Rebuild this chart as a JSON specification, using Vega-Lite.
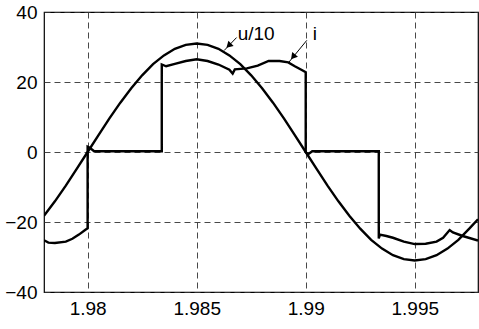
{
  "$schema": "https://vega.github.io/schema/vega-lite/v6.json",
  "width": 434,
  "height": 280,
  "autosize": {"type": "none"},
  "padding": {"left": 44, "top": 12, "right": 1, "bottom": 37},
  "background": "white",
  "config": {
    "view": {"stroke": "black", "strokeWidth": 1.2},
    "font": "Liberation Sans",
    "axis": {
      "domain": false,
      "ticks": false,
      "grid": true,
      "gridColor": "#333333",
      "gridDash": [6, 4],
      "gridWidth": 0.9,
      "labelFont": "Liberation Sans",
      "labelFontSize": 19,
      "labelColor": "black",
      "title": null
    }
  },
  "datasets": {
    "curves": [
      {"s": "u", "k": 1, "t": 1.978, "v": -18.2},
      {"s": "u", "k": 2, "t": 1.9785, "v": -14.1},
      {"s": "u", "k": 3, "t": 1.979, "v": -9.6},
      {"s": "u", "k": 4, "t": 1.9795, "v": -4.8},
      {"s": "u", "k": 5, "t": 1.98, "v": 0},
      {"s": "u", "k": 6, "t": 1.9805, "v": 4.8},
      {"s": "u", "k": 7, "t": 1.981, "v": 9.6},
      {"s": "u", "k": 8, "t": 1.9815, "v": 14.1},
      {"s": "u", "k": 9, "t": 1.982, "v": 18.2},
      {"s": "u", "k": 10, "t": 1.9825, "v": 21.9},
      {"s": "u", "k": 11, "t": 1.983, "v": 25.1},
      {"s": "u", "k": 12, "t": 1.9835, "v": 27.6},
      {"s": "u", "k": 13, "t": 1.984, "v": 29.5},
      {"s": "u", "k": 14, "t": 1.9845, "v": 30.6},
      {"s": "u", "k": 15, "t": 1.985, "v": 31},
      {"s": "u", "k": 16, "t": 1.9855, "v": 30.6},
      {"s": "u", "k": 17, "t": 1.986, "v": 29.5},
      {"s": "u", "k": 18, "t": 1.9865, "v": 27.6},
      {"s": "u", "k": 19, "t": 1.987, "v": 25.1},
      {"s": "u", "k": 20, "t": 1.9875, "v": 21.9},
      {"s": "u", "k": 21, "t": 1.988, "v": 18.2},
      {"s": "u", "k": 22, "t": 1.9885, "v": 14.1},
      {"s": "u", "k": 23, "t": 1.989, "v": 9.6},
      {"s": "u", "k": 24, "t": 1.9895, "v": 4.8},
      {"s": "u", "k": 25, "t": 1.99, "v": 0},
      {"s": "u", "k": 26, "t": 1.9905, "v": -4.8},
      {"s": "u", "k": 27, "t": 1.991, "v": -9.6},
      {"s": "u", "k": 28, "t": 1.9915, "v": -14.1},
      {"s": "u", "k": 29, "t": 1.992, "v": -18.2},
      {"s": "u", "k": 30, "t": 1.9925, "v": -21.9},
      {"s": "u", "k": 31, "t": 1.993, "v": -25.1},
      {"s": "u", "k": 32, "t": 1.9935, "v": -27.6},
      {"s": "u", "k": 33, "t": 1.994, "v": -29.5},
      {"s": "u", "k": 34, "t": 1.9945, "v": -30.6},
      {"s": "u", "k": 35, "t": 1.995, "v": -31},
      {"s": "u", "k": 36, "t": 1.9955, "v": -30.6},
      {"s": "u", "k": 37, "t": 1.996, "v": -29.5},
      {"s": "u", "k": 38, "t": 1.9965, "v": -27.6},
      {"s": "u", "k": 39, "t": 1.997, "v": -25.1},
      {"s": "u", "k": 40, "t": 1.9975, "v": -21.9},
      {"s": "u", "k": 41, "t": 1.9979, "v": -19.2},
      {"s": "i", "k": 1, "t": 1.978, "v": -25.2},
      {"s": "i", "k": 2, "t": 1.9782, "v": -25.9},
      {"s": "i", "k": 3, "t": 1.9785, "v": -26.0},
      {"s": "i", "k": 4, "t": 1.979, "v": -25.6},
      {"s": "i", "k": 5, "t": 1.9793, "v": -24.8},
      {"s": "i", "k": 6, "t": 1.9796, "v": -23.6},
      {"s": "i", "k": 7, "t": 1.9799, "v": -22.2},
      {"s": "i", "k": 8, "t": 1.98, "v": -21.8},
      {"s": "i", "k": 9, "t": 1.98, "v": 1.5},
      {"s": "i", "k": 10, "t": 1.9801, "v": 1.2},
      {"s": "i", "k": 11, "t": 1.9803, "v": 0.2},
      {"s": "i", "k": 12, "t": 1.9834, "v": 0.2},
      {"s": "i", "k": 13, "t": 1.9834, "v": 25.0},
      {"s": "i", "k": 14, "t": 1.9836, "v": 24.5},
      {"s": "i", "k": 15, "t": 1.984, "v": 25.2},
      {"s": "i", "k": 16, "t": 1.9845, "v": 26.0},
      {"s": "i", "k": 17, "t": 1.985, "v": 26.5},
      {"s": "i", "k": 18, "t": 1.9855, "v": 26.0},
      {"s": "i", "k": 19, "t": 1.986, "v": 25.0},
      {"s": "i", "k": 20, "t": 1.9865, "v": 23.5},
      {"s": "i", "k": 21, "t": 1.98665, "v": 22.4},
      {"s": "i", "k": 22, "t": 1.98675, "v": 23.6},
      {"s": "i", "k": 23, "t": 1.9873, "v": 23.9},
      {"s": "i", "k": 24, "t": 1.9878, "v": 24.7},
      {"s": "i", "k": 25, "t": 1.9883, "v": 26.0},
      {"s": "i", "k": 26, "t": 1.9888, "v": 26.0},
      {"s": "i", "k": 27, "t": 1.9892, "v": 25.6},
      {"s": "i", "k": 28, "t": 1.9895, "v": 24.5},
      {"s": "i", "k": 29, "t": 1.9898, "v": 23.5},
      {"s": "i", "k": 30, "t": 1.99, "v": 22.8},
      {"s": "i", "k": 31, "t": 1.99, "v": 0},
      {"s": "i", "k": 32, "t": 1.9901, "v": -0.7},
      {"s": "i", "k": 33, "t": 1.9903, "v": 0.2},
      {"s": "i", "k": 34, "t": 1.99335, "v": 0.2},
      {"s": "i", "k": 35, "t": 1.99335, "v": -24.7},
      {"s": "i", "k": 36, "t": 1.9934, "v": -23.6},
      {"s": "i", "k": 37, "t": 1.9937, "v": -24.0},
      {"s": "i", "k": 38, "t": 1.994, "v": -24.5},
      {"s": "i", "k": 39, "t": 1.9945, "v": -25.6},
      {"s": "i", "k": 40, "t": 1.995, "v": -26.3},
      {"s": "i", "k": 41, "t": 1.9955, "v": -26.2},
      {"s": "i", "k": 42, "t": 1.996, "v": -25.6},
      {"s": "i", "k": 43, "t": 1.9963, "v": -24.5},
      {"s": "i", "k": 44, "t": 1.9966, "v": -22.3},
      {"s": "i", "k": 45, "t": 1.99675, "v": -23.0},
      {"s": "i", "k": 46, "t": 1.9972, "v": -24.0},
      {"s": "i", "k": 47, "t": 1.9979, "v": -25.3}
    ],
    "labels": [
      {"txt": "u/10", "t": 1.98688, "v": 33.6},
      {"txt": "i", "t": 1.99032, "v": 33.6}
    ],
    "arrows": [
      {"a": "u", "t1": 1.98683, "v1": 32.7, "t2": 1.98626, "v2": 29.0, "th": 1.98647, "vh": 30.4, "ang": 225},
      {"a": "i", "t1": 1.99005, "v1": 31.9, "t2": 1.98922, "v2": 25.6, "th": 1.98942, "vh": 27.2, "ang": 219}
    ]
  },
  "layer": [
    {
      "data": {"name": "curves"},
      "mark": {"type": "line", "color": "black", "strokeWidth": 2.4, "clip": true},
      "encoding": {
        "x": {"field": "t", "type": "quantitative", "scale": {"domain": [1.978, 1.9979], "nice": false, "zero": false},
              "axis": {"values": [1.98, 1.985, 1.99, 1.995], "format": "~g", "labelPadding": 7}},
        "y": {"field": "v", "type": "quantitative", "scale": {"domain": [-40, 40], "nice": false},
              "axis": {"values": [-40, -20, 0, 20, 40], "labelPadding": 7}},
        "detail": {"field": "s"},
        "order": {"field": "k", "type": "quantitative"}
      }
    },
    {
      "data": {"name": "arrows"},
      "mark": {"type": "rule", "color": "black", "strokeWidth": 1},
      "encoding": {
        "x": {"field": "t1", "type": "quantitative"},
        "y": {"field": "v1", "type": "quantitative"},
        "x2": {"field": "t2"},
        "y2": {"field": "v2"}
      }
    },
    {
      "data": {"name": "arrows"},
      "mark": {"type": "point", "shape": "triangle-up", "filled": true, "color": "black", "size": 55, "opacity": 1},
      "encoding": {
        "x": {"field": "th", "type": "quantitative"},
        "y": {"field": "vh", "type": "quantitative"},
        "angle": {"field": "ang", "type": "quantitative", "scale": null}
      }
    },
    {
      "data": {"name": "labels"},
      "mark": {"type": "text", "align": "left", "baseline": "middle", "fontSize": 19, "font": "Liberation Sans", "color": "black"},
      "encoding": {
        "x": {"field": "t", "type": "quantitative"},
        "y": {"field": "v", "type": "quantitative"},
        "text": {"field": "txt"}
      }
    }
  ]
}
